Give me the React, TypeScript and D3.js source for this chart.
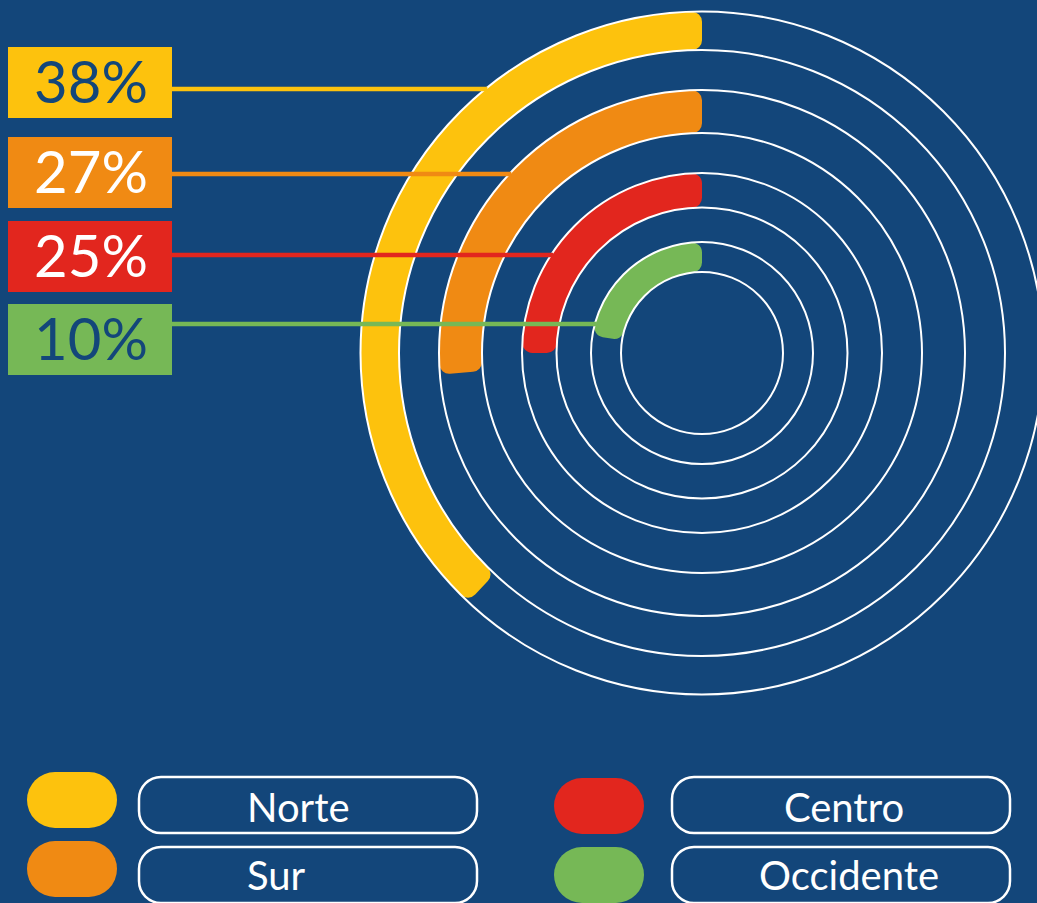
import React, { useEffect, useRef } from 'react'
import * as d3 from 'd3'

// data
const categories = ['Norte', 'Sur', 'Centro', 'Occidente']
const values = [38, 27, 25, 10]
// sweep of each arc, in percent of a full turn, as drawn
const arcSweep = [38, 26.3, 25, 22.5]
const colors = ['#FDC20D', '#F08A13', '#E2261E', '#76B856']
const labelTextColors = ['#13467a', '#ffffff', '#ffffff', '#13467a']

const BG = '#13467a'

export default function App() {
  const ref = useRef<SVGSVGElement | null>(null)

  useEffect(() => {
    const width = 1037
    const height = 903
    const cx = 702
    const cy = 353
    // white rings, outer to inner
    const ringRadii = [341.5, 303, 263, 220, 180, 145.5, 111, 81]
    const leaderY = [89, 174, 255, 324]
    const boxTop = [47, 137, 221, 304]

    const svg = d3.select(ref.current)
    svg.selectAll('*').remove()
    svg.attr('width', width).attr('height', height)

    svg.append('rect').attr('width', width).attr('height', height).attr('fill', BG)

    const angle = d3.scaleLinear().domain([0, 100]).range([0, 2 * Math.PI])

    const g = svg.append('g').attr('transform', `translate(${cx},${cy})`)

    const arc = d3.arc<any>()
      .startAngle(0)
      .endAngle(d => -angle(d.sweep))
      .innerRadius(d => d.inner)
      .outerRadius(d => d.outer)
      .cornerRadius(10)

    const arcData = categories.map((c, i) => ({
      name: c,
      sweep: arcSweep[i],
      outer: ringRadii[i * 2],
      inner: ringRadii[i * 2 + 1],
      color: colors[i],
    }))

    g.selectAll('path.band')
      .data(arcData)
      .join('path')
      .attr('class', 'band')
      .attr('d', arc)
      .attr('fill', d => d.color)

    g.selectAll('circle')
      .data(ringRadii)
      .join('circle')
      .attr('r', d => d)
      .attr('fill', 'none')
      .attr('stroke', '#fff')
      .attr('stroke-width', 2)

    // leader lines, from label box to the outer edge of each band
    svg.append('g')
      .selectAll('line')
      .data(arcData)
      .join('line')
      .attr('x1', 172)
      .attr('x2', (d, i) => cx - Math.sqrt(d.outer * d.outer - (cy - leaderY[i]) ** 2) + 2)
      .attr('y1', (d, i) => leaderY[i])
      .attr('y2', (d, i) => leaderY[i])
      .attr('stroke', d => d.color)
      .attr('stroke-width', 4.5)

    const labels = svg.append('g')
    labels.selectAll('rect')
      .data(values)
      .join('rect')
      .attr('x', 8)
      .attr('y', (d, i) => boxTop[i])
      .attr('width', 164)
      .attr('height', 71)
      .attr('fill', (d, i) => colors[i])

    labels.selectAll('text')
      .data(values)
      .join('text')
      .attr('x', 91)
      .attr('y', (d, i) => boxTop[i] + 56)
      .attr('text-anchor', 'middle')
      .attr('font-family', 'Lato, sans-serif')
      .attr('font-size', 58)
      .attr('fill', (d, i) => labelTextColors[i])
      .text(d => `${d}%`)

    // legend, two columns
    const legendPos = [
      { sx: 27, sy: 772, bx: 139, by: 777, tx: 247, anchor: 'start', ty: 822 },
      { sx: 27, sy: 841, bx: 139, by: 847, tx: 247, anchor: 'start', ty: 890 },
      { sx: 554, sy: 778, bx: 672, by: 777, tx: 844, anchor: 'middle', ty: 822 },
      { sx: 554, sy: 847, bx: 672, by: 847, tx: 849, anchor: 'middle', ty: 890 },
    ]
    const legend = svg.append('g')
    const item = legend.selectAll('g')
      .data(categories)
      .join('g')

    item.append('rect')
      .attr('x', (d, i) => legendPos[i].sx)
      .attr('y', (d, i) => legendPos[i].sy)
      .attr('width', 90)
      .attr('height', 56)
      .attr('rx', 28)
      .attr('fill', (d, i) => colors[i])

    item.append('rect')
      .attr('x', (d, i) => legendPos[i].bx)
      .attr('y', (d, i) => legendPos[i].by)
      .attr('width', 338)
      .attr('height', 56)
      .attr('rx', 22)
      .attr('fill', 'none')
      .attr('stroke', '#fff')
      .attr('stroke-width', 2.5)

    item.append('text')
      .attr('x', (d, i) => legendPos[i].tx)
      .attr('y', (d, i) => legendPos[i].ty)
      .attr('text-anchor', (d, i) => legendPos[i].anchor)
      .attr('font-family', 'Lato, sans-serif')
      .attr('font-size', 40)
      .attr('fill', '#fff')
      .text(d => d)
  }, [])

  return (
    <div>
      <style>{'body{margin:0;background:' + BG + '}'}</style>
      <svg ref={ref} style={{ display: 'block' }} />
    </div>
  )
}
